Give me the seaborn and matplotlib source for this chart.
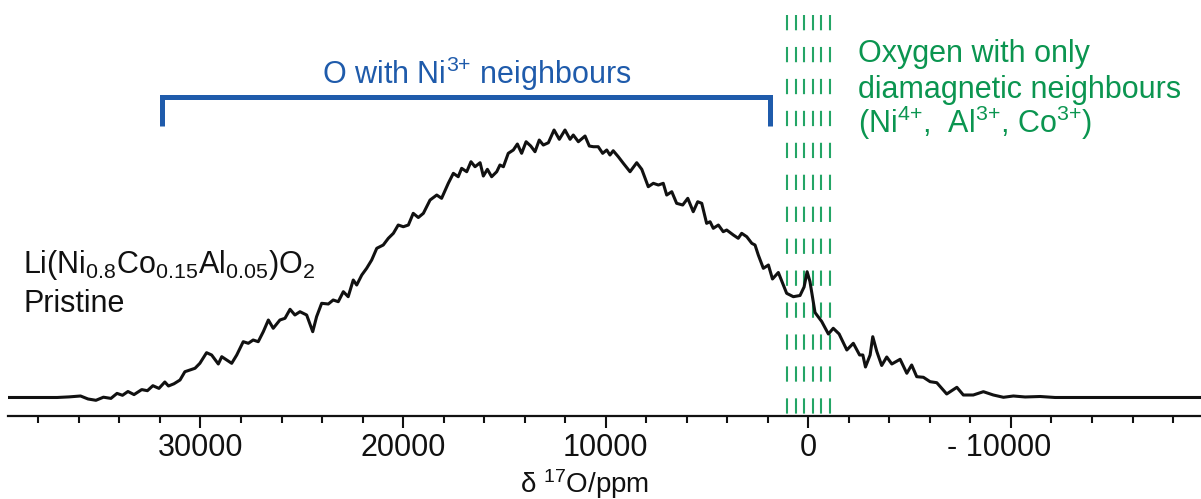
import numpy as np
import pandas as pd
import matplotlib
matplotlib.use("Agg")
import matplotlib.pyplot as plt
from matplotlib.ticker import MultipleLocator
from matplotlib.transforms import ScaledTranslation
import seaborn as sns

# 17O NMR spectrum of pristine Li(Ni0.8Co0.15Al0.05)O2
shift_ppm = [
    39500, 38420, 37080, 36490, 35920, 35550, 35160, 34790, 34420, 34120,
    33850, 33580, 33280, 32900, 32620, 32350, 32050, 31760, 31580, 31310,
    31010, 30770, 30520, 30270, 30030, 29700, 29450, 29120, 28950, 28710,
    28460, 28210, 27890, 27640, 27400, 27150, 26900, 26650, 26410, 26080,
    25830, 25580, 25340, 25090, 24760, 24460, 24270, 24020, 23690, 23450,
    23200, 22950, 22710, 22460, 22290, 22040, 21800, 21550, 21300, 20980,
    20730, 20480, 20240, 19990, 19740, 19500, 19250, 19000, 18670, 18340,
    18100, 17770, 17520, 17280, 17110, 16860, 16650, 16450, 16200, 16040,
    15840, 15630, 15380, 15220, 15050, 14810, 14560, 14360, 14150, 13930,
    13700, 13490, 13280, 13080, 12830, 12550, 12290, 12010, 11760, 11600,
    11350, 11020, 10810, 10610, 10370, 10150, 9950, 9790, 9630, 9380,
    9130, 8800, 8470, 8220, 7900, 7650, 7400, 7160, 6990, 6740,
    6500, 6200, 5950, 5680, 5460, 5260, 5020, 4850, 4690, 4440,
    4200, 4030, 3700, 3460, 3290, 3040, 2790, 2630, 2470, 2220,
    1970, 1770, 1480, 1070, 740, 410, 210, 60, -80, -330,
    -660, -990, -1230, -1520, -1900, -2220, -2530, -2690, -2820, -3050,
    -3180, -3380, -3620, -3870, -4120, -4530, -4860, -5100, -5350, -5680,
    -6010, -6340, -6830, -7330, -7650, -8140, -8640, -9130, -9630, -10120,
    -10700, -11440, -12180, -19380,
]
intensity = [
    0.00, 0.00, 0.00, 0.22, 0.56, -0.56, -1.05, 0.11, -0.34, 1.53,
    0.82, 2.24, 1.08, 2.95, 2.54, 4.41, 3.40, 5.79, 4.30, 5.12,
    6.54, 9.64, 10.28, 10.92, 12.78, 16.75, 15.89, 12.52, 15.25, 14.02,
    12.78, 15.89, 20.86, 20.26, 21.49, 20.86, 24.60, 28.97, 25.87, 28.97,
    29.60, 32.97, 30.84, 32.07, 30.84, 24.60, 30.20, 35.21, 34.95, 36.45,
    35.81, 39.55, 37.68, 43.92, 42.05, 45.79, 48.29, 51.40, 55.77, 57.00,
    59.51, 61.38, 64.48, 63.84, 64.48, 68.85, 67.28, 68.85, 73.82, 75.69,
    74.46, 80.07, 83.80, 82.53, 85.67, 84.40, 88.14, 86.27, 87.77, 82.80,
    85.30, 82.53, 84.40, 86.91, 86.27, 91.28, 92.52, 94.76, 91.28, 95.62,
    94.01, 91.88, 96.25, 94.38, 95.24, 100.00, 96.52, 100.00, 96.52, 98.12,
    95.62, 97.75, 94.01, 93.75, 93.75, 91.28, 92.52, 90.65, 92.25, 90.01,
    87.54, 84.40, 87.77, 85.30, 78.80, 80.07, 79.43, 80.07, 75.69, 76.93,
    72.59, 71.96, 74.46, 69.45, 73.19, 72.59, 65.11, 65.71, 63.25, 64.48,
    61.98, 62.61, 60.74, 59.51, 61.38, 60.11, 57.64, 57.00, 53.27, 48.29,
    49.53, 44.30, 46.73, 38.95, 37.68, 38.13, 41.30, 47.02, 43.36, 31.77,
    28.41, 23.74, 25.87, 23.74, 17.76, 20.26, 15.89, 15.89, 11.40, 15.89,
    22.73, 17.19, 11.96, 15.14, 12.52, 14.28, 9.05, 12.15, 7.78, 7.55,
    5.91, 5.53, 1.31, 3.81, 0.93, 0.93, 2.17, 0.93, 0.07, 0.56,
    0.19, 0.37, 0.00, 0.00,
]

tick_values = [30000, 20000, 10000, 0, -10000]
tick_labels = ["30000", "20000", "10000", "0", "- 10000"]
diamagnetic_shifts = [1050, 630, 210, -210, -630, -1050]
ni3_bracket = (31900, 1870)

W, H = 1201, 499
BLACK = "#111111"
BLUE = "#1f5bab"
GREEN_TEXT = "#0b9550"
GREEN_LINE = "#24a566"

sns.set_style("white")
plt.rcParams["font.family"] = ["Liberation Sans", "DejaVu Sans"]
plt.rcParams["mathtext.fontset"] = "custom"
plt.rcParams["mathtext.rm"] = "Liberation Sans"
plt.rcParams["mathtext.it"] = "Liberation Sans"
plt.rcParams["mathtext.bf"] = "Liberation Sans:bold"
plt.rcParams["mathtext.default"] = "regular"

FS = 22

fig = plt.figure(figsize=(W / 100, H / 100), dpi=100)
ax = fig.add_axes([8 / W, 1 - 416 / H, 1 - 8 / W, 416 / H])

df = pd.DataFrame({"ppm": shift_ppm, "intensity": intensity})
sns.lineplot(data=df, x="ppm", y="intensity", ax=ax, color=BLACK,
             lw=2.2, estimator=None, sort=False, zorder=3)

ax.set_xlim(39500, -19380)
ax.set_ylim(-6.92, 148.6)

# dashed markers for the diamagnetic region around 0 ppm
for s in diamagnetic_shifts:
    ax.plot([s, s], [143.0, -6.92], color=GREEN_LINE, lw=1.5,
            linestyle=(0, (11.0 / 1.5, 12.0 / 1.5)), zorder=2)

# bracket over the Ni3+ region
x0, x1 = ni3_bracket
ax.plot([x0, x0, x1, x1], [101.5, 112.15, 112.15, 101.5], color=BLUE,
        lw=3.6, solid_joinstyle="miter", solid_capstyle="butt", zorder=2)
ax.text(16350, 117.2, r"O with Ni$^{3{+}}$ neighbours", color=BLUE,
        fontsize=FS, ha="center", va="baseline")

# axis styling
for side in ["left", "top", "right"]:
    ax.spines[side].set_visible(False)
ax.spines["bottom"].set_linewidth(1.6)
ax.spines["bottom"].set_color(BLACK)
ax.set_yticks([])
ax.set_xticks(tick_values)
ax.set_xticklabels(tick_labels)
ax.xaxis.set_minor_locator(MultipleLocator(2000))
ax.tick_params(axis="x", which="both", bottom=True, top=False)
ax.tick_params(axis="x", which="major", length=8.6, width=1.5,
               direction="out", pad=4.0, labelsize=FS, color=BLACK,
               labelcolor=BLACK)
ax.tick_params(axis="x", which="minor", length=5.0, width=1.5,
               direction="out", color=BLACK)
ax.set_xlabel("")
ax.set_ylabel("")
ax.patch.set_alpha(0)

# keep the digits of the negative label centred on their tick
last = ax.xaxis.get_major_ticks()[-1].label1
last.set_transform(last.get_transform() +
                   ScaledTranslation(-0.115, 0, fig.dpi_scale_trans))


def fx(px):
    return px / W


def fy(py):
    return 1 - py / H


fig.text(fx(585), fy(493), r"δ $^{17}$O/ppm", fontsize=20, ha="center",
         va="baseline", color=BLACK)

fig.text(fx(23), fy(273), r"Li(Ni$_{0.8}$Co$_{0.15}$Al$_{0.05}$)O$_2$",
         fontsize=FS, ha="left", va="baseline", color=BLACK)
fig.text(fx(23), fy(312), "Pristine", fontsize=FS, ha="left",
         va="baseline", color=BLACK)

green_lines = ["Oxygen with only", "diamagnetic neighbours",
               r"(Ni$^{4{+}}$,  Al$^{3{+}}$, Co$^{3{+}}$)"]
for i, line in enumerate(green_lines):
    fig.text(fx(858), fy(62 + 35.7 * i), line, fontsize=FS, ha="left",
             va="baseline", color=GREEN_TEXT)

fig.savefig("out.png", dpi=100)
